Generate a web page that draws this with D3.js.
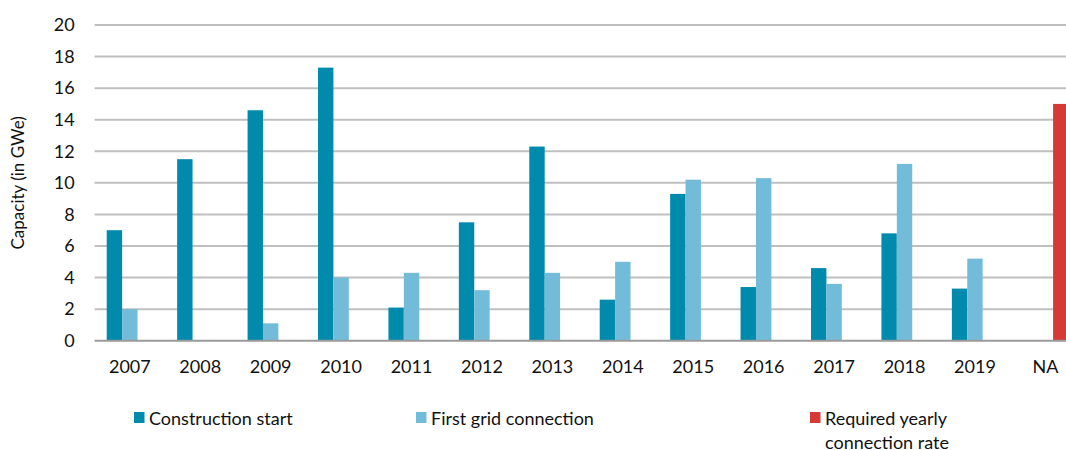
<!DOCTYPE html>
<html>
<head>
<meta charset="utf-8">
<script src="https://cdn.jsdelivr.net/npm/d3@7"></script>
<style>
  body { margin: 0; background: #fff; }
  svg { display: block; font-family: "Lato", "Open Sans", sans-serif; }
</style>
</head>
<body>
<div id="chart"></div>
<script>
// data
const years = ["2007", "2008", "2009", "2010", "2011", "2012", "2013",
  "2014", "2015", "2016", "2017", "2018", "2019", "NA"];
const constructionStart = [7.0, 11.5, 14.6, 17.3, 2.1, 7.5, 12.3, 2.6, 9.3, 3.4, 4.6, 6.8, 3.3, 0];
const firstGridConnection = [2.0, 0, 1.1, 4.0, 4.3, 3.2, 4.3, 5.0, 10.2, 10.3, 3.6, 11.2, 5.2, 0];
const requiredRate = [0, 0, 0, 0, 0, 0, 0, 0, 0, 0, 0, 0, 0, 15.0];
const yTicks = [0, 2, 4, 6, 8, 10, 12, 14, 16, 18, 20];

const seriesInfo = [
  { id: "cs", label: ["Construction start"], values: constructionStart, color: "#008aab" },
  { id: "fg", label: ["First grid connection"], values: firstGridConnection, color: "#73bcd9" },
  { id: "rr", label: ["Required yearly", "connection rate"], values: requiredRate, color: "#d63a37" }
];

const width = 1066, height = 450;
const margin = { left: 94.6, top: 25, bottom: 109.3 };
const innerWidth = 986;   // plot runs past the right edge, as in the original
const innerHeight = height - margin.top - margin.bottom;

const svg = d3.select("#chart")
  .append("svg")
  .attr("width", width)
  .attr("height", height);

const inner = svg.append("g")
  .attr("transform", `translate(${margin.left}, ${margin.top})`);

const xScale = d3.scaleBand()
  .domain(years)
  .range([0, innerWidth])
  .paddingInner(0.344)
  .paddingOuter(0.172);

const xSub = d3.scaleBand()
  .domain(seriesInfo.map(s => s.id))
  .range([0, xScale.bandwidth()]);

const yScale = d3.scaleLinear()
  .domain([0, 20])
  .range([innerHeight, 0]);

// gridlines
inner.append("g")
  .selectAll("line")
  .data(yTicks.filter(t => t > 0))
  .join("line")
  .attr("x1", 0)
  .attr("x2", width - margin.left)
  .attr("y1", d => yScale(d))
  .attr("y2", d => yScale(d))
  .attr("stroke", "#bfbfbf")
  .attr("stroke-width", 2);

// bars
seriesInfo.forEach(s => {
  inner.selectAll(`.bar-${s.id}`)
    .data(years.map((y, i) => ({ year: y, value: s.values[i] })).filter(d => d.value > 0))
    .join("rect")
    .attr("class", `bar-${s.id}`)
    .attr("x", d => xScale(d.year) + xSub(s.id))
    .attr("y", d => yScale(d.value))
    .attr("width", xSub.bandwidth())
    .attr("height", d => yScale(0) - yScale(d.value))
    .attr("fill", s.color);
});

// zero line
inner.append("line")
  .attr("x1", 0)
  .attr("x2", width - margin.left)
  .attr("y1", yScale(0))
  .attr("y2", yScale(0))
  .attr("stroke", "#9a9a9a")
  .attr("stroke-width", 2);

// y axis labels
const leftAxis = d3.axisLeft(yScale).tickValues(yTicks).tickSize(0).tickPadding(20);
inner.append("g")
  .call(leftAxis)
  .call(g => g.select(".domain").remove())
  .selectAll("text")
  .attr("font-size", 18)
  .attr("font-family", "Lato, sans-serif")
  .attr("fill", "#111");

// x axis labels
const bottomAxis = d3.axisBottom(xScale).tickSize(0).tickPadding(20);
inner.append("g")
  .attr("transform", `translate(0, ${innerHeight})`)
  .call(bottomAxis)
  .call(g => g.select(".domain").remove())
  .selectAll("text")
  .attr("font-size", 18)
  .attr("font-family", "Lato, sans-serif")
  .attr("fill", "#111");

// y title
svg.append("text")
  .attr("transform", `translate(24, ${margin.top + innerHeight / 2}) rotate(-90)`)
  .attr("text-anchor", "middle")
  .attr("font-size", 17)
  .attr("fill", "#111")
  .text("Capacity (in GWe)");

// legend
const legendX = [134, 416, 810];
seriesInfo.forEach((s, i) => {
  const g = svg.append("g").attr("transform", `translate(${legendX[i]}, 412)`);
  g.append("rect")
    .attr("width", 10.5)
    .attr("height", 11)
    .attr("fill", s.color);
  s.label.forEach((line, j) => {
    g.append("text")
      .attr("x", 15)
      .attr("y", 13 + j * 24)
      .attr("font-size", 18)
      .attr("fill", "#111")
      .text(line);
  });
});
</script>
</body>
</html>
